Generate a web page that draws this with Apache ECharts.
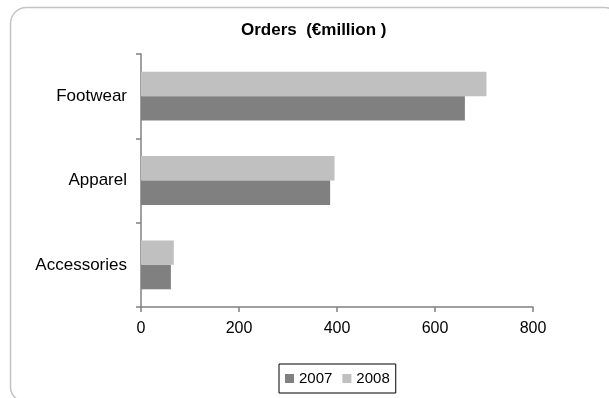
<!DOCTYPE html>
<html>
<head>
<meta charset="utf-8">
<script src="https://cdn.jsdelivr.net/npm/echarts@6/dist/echarts.min.js"></script>
<style>
  html, body { margin: 0; padding: 0; background: #fff; }
  #chart { width: 609px; height: 398px; }
</style>
</head>
<body>
<div id="chart"></div>
<script>
// Orders by product line, € million
const categories = ['Accessories', 'Apparel', 'Footwear'];
const orders2007 = [61, 386, 661];
const orders2008 = [67, 395, 705];
const xTicks = { min: 0, max: 800, interval: 200 };

const FONT = '"Liberation Sans", Arial, sans-serif';
const axisGray = '#808080';

const chart = echarts.init(document.getElementById('chart'), null, { renderer: 'canvas' });

chart.setOption({
  backgroundColor: '#fff',
  animation: false,
  title: {
    text: 'Orders  (€million )',
    left: 241,
    top: 22,
    padding: 0,
    textStyle: { fontFamily: FONT, fontSize: 17, fontWeight: 'bold', color: '#000' }
  },
  graphic: [{
    type: 'rect',
    silent: true,
    z: -1,
    shape: { x: 10.5, y: 7.5, width: 610, height: 395, r: 16 },
    style: { fill: 'none', stroke: '#c4c4c4', lineWidth: 1.5 }
  }],
  legend: {
    data: ['2007', '2008'],
    left: 279,
    top: 364,
    padding: [7, 6, 7, 6],
    itemGap: 10,
    itemWidth: 9,
    itemHeight: 9,
    icon: 'rect',
    borderColor: '#000',
    borderWidth: 1,
    textStyle: { fontFamily: FONT, fontSize: 15, color: '#000' }
  },
  grid: { left: 141, right: 76, top: 54, bottom: 91, containLabel: false },
  xAxis: {
    type: 'value',
    min: xTicks.min,
    max: xTicks.max,
    interval: xTicks.interval,
    axisLine: { show: true, lineStyle: { color: axisGray, width: 1.5 } },
    axisTick: { show: true, length: 5, lineStyle: { color: axisGray, width: 1.5 } },
    splitLine: { show: false },
    axisLabel: { margin: 14, fontFamily: FONT, fontSize: 16, color: '#000' }
  },
  yAxis: {
    type: 'category',
    data: categories,
    axisLine: { show: true, lineStyle: { color: axisGray, width: 1.5 } },
    axisTick: { show: true, length: 5, lineStyle: { color: axisGray, width: 1.5 } },
    axisLabel: { margin: 14, fontFamily: FONT, fontSize: 17, color: '#000' }
  },
  // 2008 is listed first so its bar sits above the 2007 bar in each group
  series: [
    {
      name: '2008',
      type: 'bar',
      data: orders2008,
      barGap: '0%',
      barCategoryGap: '42%',
      itemStyle: { color: '#c0c0c0' }
    },
    {
      name: '2007',
      type: 'bar',
      data: orders2007,
      barGap: '0%',
      barCategoryGap: '42%',
      itemStyle: { color: '#808080' }
    }
  ]
});
</script>
</body>
</html>
